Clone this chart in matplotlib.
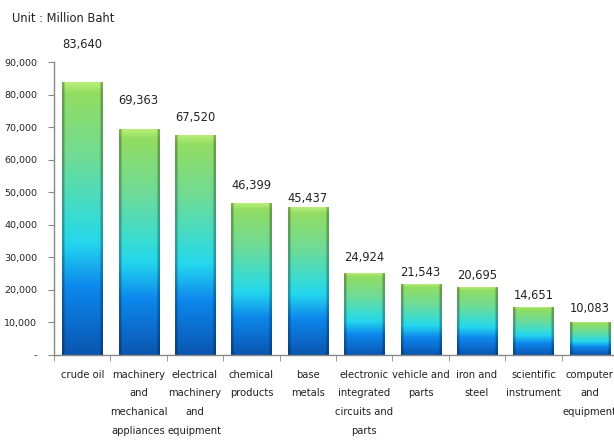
import numpy as np
import matplotlib.pyplot as plt
from matplotlib.colors import LinearSegmentedColormap

# Export values (million Baht)
categories = [
    "crude oil",
    "machinery\nand\nmechanical\nappliances",
    "electrical\nmachinery\nand\nequipment",
    "chemical\nproducts",
    "base\nmetals",
    "electronic\nintegrated\ncircuits and\nparts",
    "vehicle and\nparts",
    "iron and\nsteel",
    "scientific\ninstrument",
    "computer\nand\nequipment",
]
values = [83640, 69363, 67520, 46399, 45437, 24924, 21543, 20695, 14651, 10083]
value_labels = ["83,640", "69,363", "67,520", "46,399", "45,437",
                "24,924", "21,543", "20,695", "14,651", "10,083"]
ytick_vals = [0, 10000, 20000, 30000, 40000, 50000, 60000, 70000, 80000, 90000]
ytick_labels = ["-", "10,000", "20,000", "30,000", "40,000", "50,000",
                "60,000", "70,000", "80,000", "90,000"]

# gap between bar top and label centre, in pixels (labels sit unevenly)
label_gap = [38, 29, 18, 18, 9, 16, 12, 12, 12, 14]

plt.rcParams['font.family'] = ['DejaVu Sans']

fig = plt.figure(figsize=(6.14, 4.40), dpi=100)
ax = fig.add_axes([54 / 614, 1 - 355 / 440, 564 / 614, 293 / 440])

# vertical gradient: dark blue -> blue -> cyan -> green
grad = LinearSegmentedColormap.from_list("bar", [
    (0.00, "#0a56ad"),
    (0.08, "#0b66c6"),
    (0.25, "#0d88ec"),
    (0.41, "#24d6ee"),
    (0.52, "#3ddcce"),
    (0.72, "#6fdb96"),
    (0.96, "#93dd62"),
    (1.00, "#b8ee78"),
])

bar_w = 0.71
n_rows, n_cols = 256, 40
vert = grad(np.linspace(0, 1, n_rows))[:, :3]
# darker bevel on left / right sides
shade = np.ones(n_cols)
shade[:2] = 0.72
shade[-2:] = 0.72
shade[2] = 0.88
shade[-3] = 0.88

for i, v in enumerate(values):
    img = vert[:, None, :] * shade[None, :, None]
    ax.imshow(img[::-1], extent=(i - bar_w / 2, i + bar_w / 2, 0, v),
              aspect='auto', interpolation='bilinear', zorder=2)
    ax.annotate(value_labels[i], xy=(i, v), xytext=(0, label_gap[i] * 0.72),
                textcoords='offset points', ha='center', va='center',
                fontsize=8.3, color='#222222', annotation_clip=False)

ax.set_xlim(-0.5, len(values) - 0.5)
ax.set_ylim(0, 90000)

ax.set_yticks(ytick_vals)
ax.set_yticklabels(ytick_labels, fontsize=6.8, color='#222222')
ax.tick_params(axis='y', length=4, color='#888888', pad=8)

ax.set_xticks(np.arange(len(values)))
ax.set_xticklabels(categories, fontsize=7.2, color='#222222', linespacing=2.1)
ax.tick_params(axis='x', which='major', length=0, pad=10.5)
ax.set_xticks(np.arange(len(values) + 1) - 0.5, minor=True)
ax.tick_params(axis='x', which='minor', length=4, color='#888888')

for side in ['top', 'right']:
    ax.spines[side].set_visible(False)
for side in ['left', 'bottom']:
    ax.spines[side].set_color('#888888')
    ax.spines[side].set_linewidth(1.0)

fig.text(12 / 614, 1 - 18 / 440, "Unit : Million Baht", fontsize=8.3,
         color='#222222', va='center', ha='left')

fig.savefig("out.png", dpi=100)
